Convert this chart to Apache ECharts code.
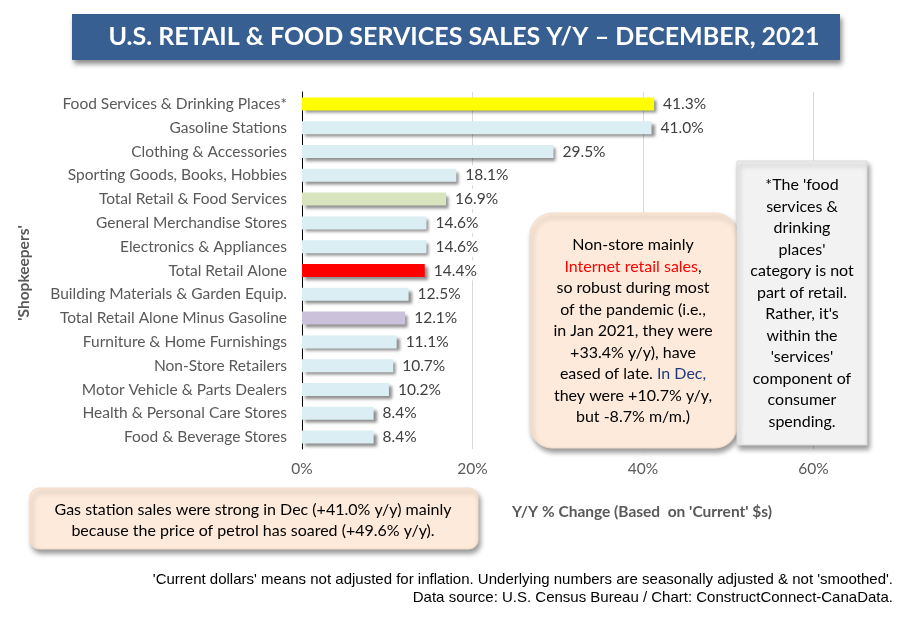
<!DOCTYPE html>
<html><head><meta charset="utf-8">
<script src="https://cdn.jsdelivr.net/npm/echarts@6/dist/echarts.min.js"></script>
<style>html,body{margin:0;padding:0;background:#fff}#c{width:913px;height:622px}</style>
</head><body><div id="c"></div>
<script>
const categories = ['Food Services & Drinking Places*','Gasoline Stations','Clothing & Accessories','Sporting Goods, Books, Hobbies','Total Retail & Food Services','General Merchandise Stores','Electronics & Appliances','Total Retail Alone','Building Materials & Garden Equip.','Total Retail Alone Minus Gasoline','Furniture & Home Furnishings','Non-Store Retailers','Motor Vehicle & Parts Dealers','Health & Personal Care Stores','Food & Beverage Stores'];
const values = [41.3,41.0,29.5,18.1,16.9,14.6,14.6,14.4,12.5,12.1,11.1,10.7,10.2,8.4,8.4];
const xTicks = [0,20,40,60];

const baseColor = '#DAEEF3';
const highlight = {
  'Food Services & Drinking Places*':'#FFFF00',
  'Total Retail & Food Services':'#D7E4BD',
  'Total Retail Alone':'#FF0000',
  'Total Retail Alone Minus Gasoline':'#CCC1DA'
};
const F = 'Lato, "Open Sans", sans-serif';
const NARROW = '"Liberation Sans Narrow", "Arial Narrow", "Liberation Sans", sans-serif';

const chart = echarts.init(document.getElementById('c'));
chart.setOption({
  animation:false,
  backgroundColor:'#fff',
  grid:{left:302, right:99.5, top:92, bottom:173},
  xAxis:{type:'value', min:xTicks[0], max:xTicks[xTicks.length-1], interval:20,
    axisLine:{show:false}, axisTick:{show:false},
    splitLine:{lineStyle:{color:'#D9D9D9', width:1}},
    axisLabel:{formatter:'{value}%', color:'#595959', fontSize:15.5, fontFamily:F, margin:12}},
  yAxis:{type:'category', data:categories, inverse:true,
    axisLine:{lineStyle:{color:'#000', width:1}}, axisTick:{show:false},
    axisLabel:{color:'#595959', fontSize:15.5, fontFamily:F, margin:15}},
  series:[{type:'bar', barWidth:13,
    data: categories.map((c,i)=>({value:values[i], itemStyle:{color: highlight[c] || baseColor}})),
    itemStyle:{shadowColor:'rgba(0,0,0,0.45)', shadowBlur:3, shadowOffsetX:3, shadowOffsetY:3},
    label:{show:true, position:'right', distance:6, color:'#404040', fontSize:15.5, fontFamily:F,
      backgroundColor:'#fff', padding:[2,3],
      formatter:p=>p.value.toFixed(1)+'%'}
  }],
  graphic:[
    {type:'rect', z:10, shape:{x:72,y:14,width:768,height:46},
      style:{fill:'#375F91', shadowColor:'rgba(0,0,0,0.45)', shadowBlur:5, shadowOffsetX:2, shadowOffsetY:4}},
    {type:'text', z:11, x:464, y:37, style:{text:'U.S. RETAIL & FOOD SERVICES SALES Y/Y \u2013 DECEMBER, 2021',
      fill:'#fff', font:'bold 25px '+F, textAlign:'center', textVerticalAlign:'middle'}},
    {type:'text', z:11, x:24, y:273, rotation:Math.PI/2, style:{text:"'Shopkeepers'",
      fill:'#595959', font:'bold 15.5px '+F, textAlign:'center', textVerticalAlign:'middle'}},
    {type:'text', z:11, x:642, y:512, style:{text:"Y/Y % Change (Based  on 'Current' $s)",
      fill:'#595959', font:'bold 15.5px '+F, textAlign:'center', textVerticalAlign:'middle'}},
    {type:'rect', z:10, shape:{x:530,y:213,width:207,height:235,r:22},
      style:{fill:'#FDEADA', stroke:'#F5DCC8', lineWidth:1, shadowColor:'rgba(0,0,0,0.4)', shadowBlur:5, shadowOffsetX:2, shadowOffsetY:4}},
    {type:'text', z:11, x:633, y:331, style:{
      text:['Non-store mainly','{r|Internet retail sales},','so robust during most','of the pandemic (i.e.,','in Jan 2021, they were','+33.4% y/y), have','eased of late. {b|In Dec,}','they were +10.7% y/y,','but -8.7% m/m.)'].join('\n'),
      fill:'#000', font:'16px '+F, textAlign:'center', textVerticalAlign:'middle', lineHeight:21.5,
      rich:{r:{fill:'#FF0000', font:'16px '+F, lineHeight:21.5}, b:{fill:'#1F3A7A', font:'16px '+F, lineHeight:21.5}}}},
    {type:'rect', z:10, shape:{x:737,y:161,width:130,height:284},
      style:{fill:'#F2F2F2', stroke:'#D9D9D9', lineWidth:1, shadowColor:'rgba(0,0,0,0.4)', shadowBlur:5, shadowOffsetX:2, shadowOffsetY:4}},
    {type:'text', z:11, x:802, y:303.5, style:{
      text:["*The 'food","services &","drinking","places'","category is not","part of retail.","Rather, it's","within the","'services'","component of","consumer","spending."].join('\n'),
      fill:'#000', font:'16px '+F, textAlign:'center', textVerticalAlign:'middle', lineHeight:21.5}},
    {type:'rect', z:10, shape:{x:30,y:488,width:448,height:61,r:9},
      style:{fill:'#FDEADA', stroke:'#F5DCC8', lineWidth:1, shadowColor:'rgba(0,0,0,0.4)', shadowBlur:5, shadowOffsetX:2, shadowOffsetY:4}},
    {type:'text', z:11, x:253, y:520, style:{
      text:'Gas station sales were strong in Dec (+41.0% y/y) mainly\nbecause the price of petrol has soared (+49.6% y/y).',
      fill:'#000', font:'16px '+F, textAlign:'center', textVerticalAlign:'middle', lineHeight:21}},
    {type:'text', z:11, x:893, y:580, style:{
      text:"'Current dollars' means not adjusted for inflation. Underlying numbers are seasonally adjusted & not 'smoothed'.",
      fill:'#000', font:'15px '+NARROW, textAlign:'right', textVerticalAlign:'middle'}},
    {type:'text', z:11, x:893, y:598, style:{
      text:'Data source: U.S. Census Bureau / Chart: ConstructConnect-CanaData.',
      fill:'#000', font:'15px '+NARROW, textAlign:'right', textVerticalAlign:'middle'}}
  ]
});
</script></body></html>
